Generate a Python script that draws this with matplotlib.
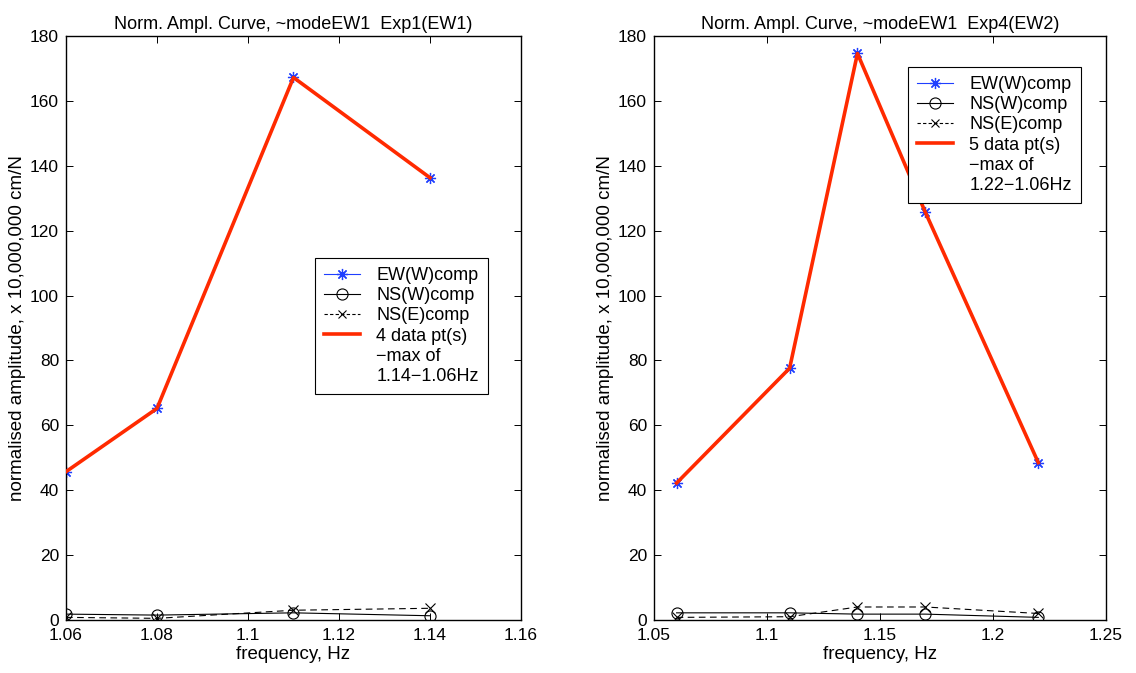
import matplotlib
matplotlib.use('Agg')
import matplotlib.pyplot as plt
from matplotlib.lines import Line2D

plt.rcParams['font.family'] = ['Liberation Sans', 'DejaVu Sans']
plt.rcParams['font.size'] = 12.5

# Exp1 (EW1)
freq1 = [1.06, 1.08, 1.11, 1.14]
ew_w1 = [45.7, 65.2, 167.2, 136.3]
ns_w1 = [1.8, 1.5, 2.2, 1.3]
ns_e1 = [0.8, 0.5, 3.0, 3.6]

# Exp4 (EW2)
freq2 = [1.06, 1.11, 1.14, 1.17, 1.22]
ew_w2 = [42.2, 77.6, 174.6, 125.7, 48.5]
ns_w2 = [2.2, 2.2, 1.8, 1.8, 0.8]
ns_e2 = [0.8, 1.0, 4.0, 4.0, 2.0]

titles = ['Norm. Ampl. Curve, ~modeEW1  Exp1(EW1)',
          'Norm. Ampl. Curve, ~modeEW1  Exp4(EW2)']
red_labels = [['4 data pt(s)', '\u2212max of', '1.14\u22121.06Hz'],
              ['5 data pt(s)', '\u2212max of', '1.22\u22121.06Hz']]
xticks = [[1.06, 1.08, 1.10, 1.12, 1.14, 1.16],
          [1.05, 1.10, 1.15, 1.20, 1.25]]
xticklabels = [['1.06', '1.08', '1.1', '1.12', '1.14', '1.16'],
               ['1.05', '1.1', '1.15', '1.2', '1.25']]
yticks = [0, 20, 40, 60, 80, 100, 120, 140, 160, 180]

blue = '#1f3fff'
red = '#ff2a00'
asterisk = (8, 2, 0)

fig = plt.figure(figsize=(11.36, 6.73), dpi=100)
axes = [fig.add_axes([0.0581, 0.0788, 0.4005, 0.8678]),
        fig.add_axes([0.5757, 0.0788, 0.3980, 0.8678])]
legend_pos = [(0.547, 0.620), (0.562, 0.947)]

data = [(freq1, ew_w1, ns_w1, ns_e1), (freq2, ew_w2, ns_w2, ns_e2)]

for i, ax in enumerate(axes):
    f, ew, nsw, nse = data[i]
    ax.plot(f, ew, color=blue, lw=0.8, marker=asterisk, ms=8, mew=0.9, zorder=2)
    ax.plot(f, nsw, color='black', lw=0.8, marker='o', ms=8, mfc='none', mew=0.8, zorder=2)
    ax.plot(f, nse, color='black', lw=0.8, ls=(0, (6, 4)), marker='x', ms=7, mew=0.8, zorder=2)
    ax.plot(f, ew, color=red, lw=2.6, zorder=3)

    ax.set_xlim(xticks[i][0], xticks[i][-1])
    ax.set_ylim(0, 180)
    ax.set_xticks(xticks[i])
    ax.set_xticklabels(xticklabels[i])
    ax.set_yticks(yticks)
    ax.tick_params(direction='in', length=5, width=0.7, top=True, right=True)
    ax.tick_params(axis='x', pad=6)
    ax.tick_params(axis='y', pad=5)
    for sp in ax.spines.values():
        sp.set_linewidth(1.0)
    ax.set_title(titles[i], fontsize=13, pad=5)
    ax.set_xlabel('frequency, Hz', fontsize=13.5, labelpad=2)
    ax.set_ylabel('normalised amplitude, x 10,000,000 cm/N', fontsize=13.5, labelpad=3)

    handles = [
        Line2D([], [], color=blue, lw=0.8, marker=asterisk, ms=8, mew=0.9),
        Line2D([], [], color='black', lw=0.8, marker='o', ms=8, mfc='none', mew=0.8),
        Line2D([], [], color='black', lw=0.8, ls=(0, (3, 2)), marker='x', ms=6, mew=0.8),
        Line2D([], [], color=red, lw=2.6),
        Line2D([], [], color='none'),
        Line2D([], [], color='none'),
    ]
    labels = ['EW(W)comp', 'NS(W)comp', 'NS(E)comp'] + red_labels[i]
    leg = ax.legend(handles, labels, loc='upper left', bbox_to_anchor=legend_pos[i],
                    fancybox=False, edgecolor='black', framealpha=1, fontsize=13,
                    handlelength=2.0, handletextpad=0.9, labelspacing=0.18,
                    borderpad=0.5, borderaxespad=0)
    leg.get_frame().set_linewidth(0.8)

fig.savefig('out.png', dpi=100)
